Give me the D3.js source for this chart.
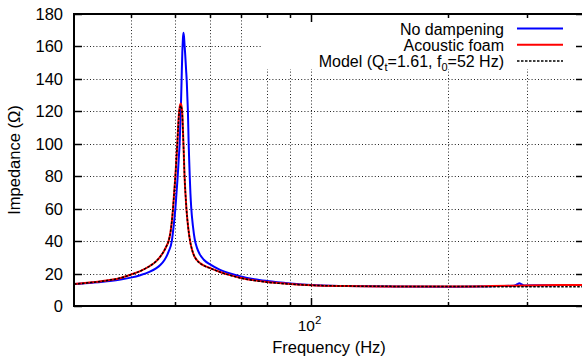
<!DOCTYPE html>
<html>
<head>
<meta charset="utf-8">
<script src="https://cdn.jsdelivr.net/npm/d3@7"></script>
<style>
  body { margin: 0; background: #fff; }
  text { font-family: "Liberation Sans", Arial, sans-serif; fill: #000; }
</style>
</head>
<body>
<script>
// values (frequency in Hz, impedance in ohm)
var freqBlue = [30, 33, 36, 38, 40, 42, 44, 45.5, 46.5, 47.5, 48.5, 49.3, 49.8, 50.2, 50.5, 50.8, 51.05, 51.3, 51.45, 51.6, 51.8, 52.0, 52.15, 52.3, 52.45, 52.6, 52.8, 53.0, 53.2, 53.35, 53.5, 53.7, 53.85, 54.0, 54.2, 54.4, 54.9, 55.4, 56, 56.8, 58, 60, 63, 66, 70, 75, 80, 90, 100, 120, 150, 200, 250, 280, 285, 288, 291, 295, 320, 360, 400];
var impBlue = [13.6, 14.4, 15.4, 16.3, 17.5, 19.0, 21.0, 23.2, 25.3, 28.3, 33.5, 40, 50, 60, 70, 80, 90, 100, 110, 120, 138, 156, 164, 168.5, 166, 161, 154, 146, 138, 129, 120, 101, 90, 80, 69, 61, 49, 41, 36, 32, 28.5, 25.5, 22.3, 20.2, 18.2, 16.5, 15.4, 13.9, 12.9, 12.3, 12.0, 11.9, 12.2, 12.5, 13.4, 14.0, 13.4, 12.7, 12.8, 12.9, 13.0];

var freqFoam = [30, 33, 36, 38, 40, 42, 44, 45.5, 46.5, 47.3, 48, 48.5, 49, 49.3, 49.6, 49.9, 50.2, 50.45, 50.7, 50.9, 51.1, 51.35, 51.6, 51.8, 52.0, 52.15, 52.3, 52.45, 52.6, 52.85, 53.1, 53.5, 54.1, 54.6, 55.2, 56, 57, 58, 60, 63, 66, 70, 75, 80, 90, 100, 120, 150, 200, 250, 300, 350, 400];
var impFoam = [13.6, 14.6, 16.0, 17.3, 19.3, 21.5, 24.5, 27.5, 30.5, 33.5, 37, 40, 46, 52, 60, 70, 80, 90, 100, 110, 118, 123, 124.8, 123, 119, 110, 100, 90, 80, 69, 60, 50, 40, 35, 31, 28.3, 26.3, 25, 23.3, 21, 19.2, 17.3, 15.8, 14.8, 13.6, 12.8, 12.3, 12.0, 12.0, 12.3, 12.7, 12.9, 13.0];

var freqModel = [30, 33, 36, 38, 40, 42, 44, 45.5, 46.5, 47.3, 48, 48.5, 49, 49.3, 49.6, 49.9, 50.2, 50.45, 50.7, 50.9, 51.1, 51.35, 51.6, 51.8, 52.0, 52.15, 52.3, 52.45, 52.6, 52.85, 53.1, 53.5, 54.1, 54.6, 55.2, 56, 57, 58, 60, 63, 66, 70, 75, 80, 90, 100, 120, 150, 200, 300, 400];
var impModel = [13.5, 14.6, 16.0, 17.3, 19.3, 21.5, 24.5, 27.5, 30.5, 33.5, 37, 40, 46, 52, 60, 70, 80, 90, 100, 109, 117, 122, 123.5, 122, 118, 109, 100, 90, 80, 69, 60, 50, 40, 35, 31, 28.2, 26.2, 24.9, 23.2, 20.9, 19.1, 17.2, 15.7, 14.7, 13.5, 12.8, 12.3, 12.1, 12.0, 11.9, 11.9];

var yTicks = [0, 20, 40, 60, 80, 100, 120, 140, 160, 180];
var xMinorTicks = [40, 50, 60, 70, 80, 90, 200, 300];
var xMajorTicks = [100];
var seriesNames = ['No dampening', 'Acoustic foam', 'Model'];

var screen = { width: 582, height: 360 };
var margins = { left: 74, top: 14, right: -2, bottom: 54 };
var w = screen.width - margins.left - margins.right;
var h = screen.height - margins.top - margins.bottom;

var svg = d3.select('body').append('svg')
            .attr('width', screen.width)
            .attr('height', screen.height);

var xScale = d3.scaleLog().domain([30, 400]).range([0, w]);
var yScale = d3.scaleLinear().domain([0, 180]).range([h, 0]);

var plot = svg.append('g')
              .attr('transform', 'translate(' + margins.left + ',' + margins.top + ')');

svg.append('defs').append('clipPath').attr('id', 'clip')
   .append('rect').attr('width', w).attr('height', h);

// grid
var grid = plot.append('g').attr('stroke', '#222').attr('stroke-width', 1).attr('stroke-dasharray', '1,2.2');
yTicks.slice(1, -1).forEach(function(v){
  grid.append('line')
      .attr('x1', 0).attr('x2', w)
      .attr('y1', Math.round(yScale(v)) + 0.5).attr('y2', Math.round(yScale(v)) + 0.5);
});
xMinorTicks.concat(xMajorTicks).forEach(function(v){
  grid.append('line')
      .attr('x1', Math.round(xScale(v)) + 0.5).attr('x2', Math.round(xScale(v)) + 0.5)
      .attr('y1', 0).attr('y2', h);
});

// key area hides grid
plot.append('rect')
    .attr('x', 188).attr('y', 0)
    .attr('width', w - 188).attr('height', 55)
    .attr('fill', '#fff');

// curves
var line = d3.line()
             .x(function(d){ return xScale(d[0]); })
             .y(function(d){ return yScale(d[1]); })
             .curve(d3.curveMonotoneX);

var curves = plot.append('g').attr('clip-path', 'url(#clip)');
var series = [
  { f: freqBlue, z: impBlue, color: '#0000ff', width: 2, dash: null },
  { f: freqFoam, z: impFoam, color: '#ff0000', width: 2, dash: null },
  { f: freqModel, z: impModel, color: '#000', width: 1.5, dash: '2.5,1.5' }
];
series.forEach(function(s){
  curves.append('path')
        .datum(s.f.map(function(f, i){ return [f, s.z[i]]; }))
        .attr('d', line)
        .attr('fill', 'none')
        .attr('stroke', s.color)
        .attr('stroke-width', s.width)
        .attr('stroke-dasharray', s.dash);
});

// border and ticks
var axes = plot.append('g').attr('stroke', '#000');
yTicks.forEach(function(v){
  var y = Math.round(yScale(v)) + 0.5;
  axes.append('line').attr('x1', 0).attr('x2', 8).attr('y1', y).attr('y2', y).attr('stroke-width', 1.5);
  axes.append('line').attr('x1', w - 8).attr('x2', w).attr('y1', y).attr('y2', y).attr('stroke-width', 1.5);
  plot.append('text')
      .attr('x', -11).attr('y', y)
      .attr('dy', '0.36em')
      .attr('text-anchor', 'end')
      .attr('font-size', 16.5)
      .text(v);
});
xMinorTicks.forEach(function(v){
  var x = Math.round(xScale(v)) + 0.5;
  axes.append('line').attr('x1', x).attr('x2', x).attr('y1', h).attr('y2', h - 4).attr('stroke-width', 1.5);
  axes.append('line').attr('x1', x).attr('x2', x).attr('y1', 0).attr('y2', 4).attr('stroke-width', 1.5);
});
xMajorTicks.forEach(function(v){
  var x = Math.round(xScale(v)) + 0.5;
  axes.append('line').attr('x1', x).attr('x2', x).attr('y1', h).attr('y2', h - 8).attr('stroke-width', 1.5);
  axes.append('line').attr('x1', x).attr('x2', x).attr('y1', 0).attr('y2', 8).attr('stroke-width', 1.5);
  var lbl = plot.append('text')
      .attr('x', x - 2).attr('y', h + 25)
      .attr('text-anchor', 'middle')
      .attr('font-size', 15.5);
  lbl.append('tspan').text('10');
  lbl.append('tspan').attr('font-size', 11.5).attr('dy', -7).text(Math.round(Math.log10(v)));
});
axes.append('rect')
    .attr('x', 0).attr('y', 0)
    .attr('width', w).attr('height', h)
    .attr('fill', 'none')
    .attr('stroke-width', 2);

// axis titles
svg.append('text')
   .attr('transform', 'translate(20,' + (margins.top + h / 2) + ') rotate(-90)')
   .attr('text-anchor', 'middle')
   .attr('font-size', 16.5)
   .text('Impedance (\u03a9)');
svg.append('text')
   .attr('x', margins.left + w / 2).attr('y', 353)
   .attr('text-anchor', 'middle')
   .attr('font-size', 16.5)
   .text('Frequency (Hz)');

// legend
var legend = plot.append('g').attr('transform', 'translate(' + (504 - margins.left) + ',0)');
series.forEach(function(s, i){
  var row = legend.append('g').attr('transform', 'translate(0,' + (20.5 + i * 16.2) + ')');
  var t = row.append('text')
             .attr('x', 0).attr('y', 0)
             .attr('text-anchor', 'end')
             .attr('font-size', 16);
  if (i < 2){
    t.text(seriesNames[i]);
  }else{
    t.append('tspan').text(seriesNames[i] + ' (Q');
    t.append('tspan').attr('font-size', 11).attr('dy', 4).text('t');
    t.append('tspan').attr('dy', -4).text('=1.61, f');
    t.append('tspan').attr('font-size', 11).attr('dy', 4).text('0');
    t.append('tspan').attr('dy', -4).text('=52 Hz)');
  }
  row.append('line')
     .attr('x1', 13).attr('x2', 59)
     .attr('y1', -6).attr('y2', -6)
     .attr('stroke', s.color)
     .attr('stroke-width', s.width)
     .attr('stroke-dasharray', s.dash);
});
</script>
</body>
</html>
